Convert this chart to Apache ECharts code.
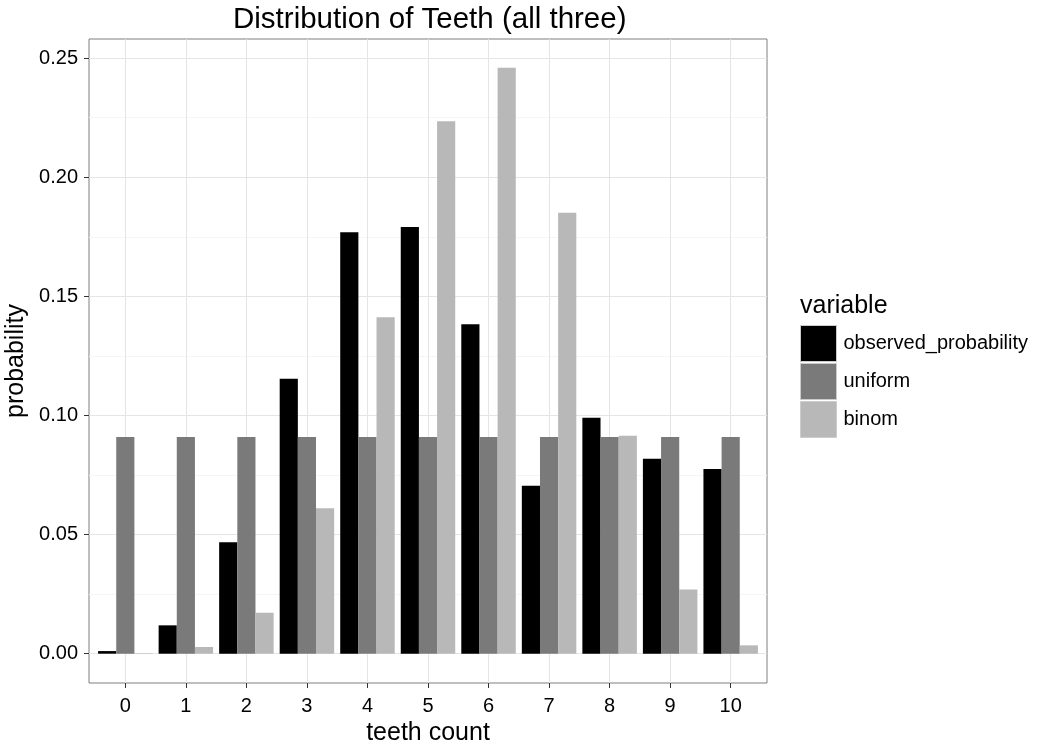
<!DOCTYPE html>
<html>
<head>
<meta charset="utf-8">
<script src="https://cdn.jsdelivr.net/npm/echarts@6/dist/echarts.min.js"></script>
<style>
html,body{margin:0;padding:0;background:#fff;}
#chart{width:1040px;height:756px;}
</style>
</head>
<body>
<div id="chart"></div>
<script>
const categories = [0, 1, 2, 3, 4, 5, 6, 7, 8, 9, 10];
const seriesNames = ['observed_probability', 'uniform', 'binom'];
const observed = [0.0011, 0.0119, 0.0468, 0.1154, 0.1769, 0.1791, 0.1383, 0.0705, 0.0990, 0.0818, 0.0775];
const uniform = [0.0909, 0.0909, 0.0909, 0.0909, 0.0909, 0.0909, 0.0909, 0.0909, 0.0909, 0.0909, 0.0909];
const binom = [0.0002, 0.0028, 0.0172, 0.0610, 0.1412, 0.2235, 0.2459, 0.1851, 0.0915, 0.0269, 0.0035];
const yTicks = [0, 0.05, 0.10, 0.15, 0.20, 0.25];
const yMinorTicks = [0.025, 0.075, 0.125, 0.175, 0.225];
const colors = ['#000000', '#7a7a7a', '#b8b8b8'];

const FONT = '"Liberation Sans", Arial, Helvetica, sans-serif';
const yMin = -0.0123, yMax = 0.2580;

const chart = echarts.init(document.getElementById('chart'), null, {renderer: 'canvas'});

function mk(name, vals, i) {
  return {
    name: name,
    type: 'bar',
    xAxisIndex: 0,
    yAxisIndex: 0,
    barGap: '0%',
    barCategoryGap: '10%',
    itemStyle: {color: colors[i]},
    emphasis: {disabled: true},
    data: categories.map((c, k) => [c, vals[k]])
  };
}

chart.setOption({
  animation: false,
  backgroundColor: '#ffffff',
  textStyle: {fontFamily: FONT},
  title: [
    {text: 'Distribution of Teeth (all three)', left: 228, top: 0,
     textStyle: {fontFamily: FONT, fontSize: 29.5, fontWeight: 'normal', color: '#000'}},
    {text: 'variable', left: 795, top: 289,
     textStyle: {fontFamily: FONT, fontSize: 25, fontWeight: 'normal', color: '#000'}}
  ],
  legend: {
    data: seriesNames,
    orient: 'vertical',
    left: 795,
    top: 320,
    icon: 'rect',
    itemWidth: 36,
    itemHeight: 36,
    itemGap: 1,
    selectedMode: false,
    itemStyle: {borderColor: '#cccccc', borderWidth: 1},
    textStyle: {fontFamily: FONT, fontSize: 20, color: '#000', padding: [0, 0, 0, 2]}
  },
  grid: {
    left: 89, top: 39, width: 678, height: 644,
    show: true, borderColor: '#7f7f7f', borderWidth: 1, backgroundColor: 'transparent',
    containLabel: false,
    outerBoundsMode: 'none'
  },
  xAxis: [{
    type: 'value',
    min: -0.6, max: 10.6,
    position: 'bottom',
    name: 'teeth count',
    nameLocation: 'middle',
    nameGap: 36,
    nameTextStyle: {fontFamily: FONT, fontSize: 25, color: '#000'},
    axisLine: {show: false, onZero: false},
    axisTick: {show: true, length: 5, customValues: categories, lineStyle: {color: '#333'}},
    axisLabel: {show: true, customValues: categories, fontSize: 20, color: '#000', margin: 13, fontFamily: FONT},
    splitLine: {show: true, lineStyle: {color: '#e5e5e5', width: 1}}
  }],
  yAxis: [{
    type: 'value',
    min: yMin, max: yMax,
    position: 'left',
    name: 'probability',
    nameLocation: 'middle',
    nameGap: 52,
    nameTextStyle: {fontFamily: FONT, fontSize: 25, color: '#000'},
    axisLine: {show: false, onZero: false},
    axisTick: {show: true, length: 5, customValues: yTicks, lineStyle: {color: '#333'}},
    axisLabel: {show: true, customValues: yTicks, fontSize: 20, color: '#000', margin: 11, fontFamily: FONT,
                formatter: v => v.toFixed(2)},
    splitLine: {show: true, lineStyle: {color: '#e5e5e5', width: 1}}
  }, {
    type: 'value',
    min: yMin, max: yMax,
    position: 'left',
    axisLine: {show: false, onZero: false},
    axisTick: {show: false, customValues: yMinorTicks},
    axisLabel: {show: false, customValues: yMinorTicks},
    splitLine: {show: true, lineStyle: {color: '#f5f5f5', width: 1}}
  }],
  series: [mk(seriesNames[0], observed, 0), mk(seriesNames[1], uniform, 1), mk(seriesNames[2], binom, 2)]
});
</script>
</body>
</html>
